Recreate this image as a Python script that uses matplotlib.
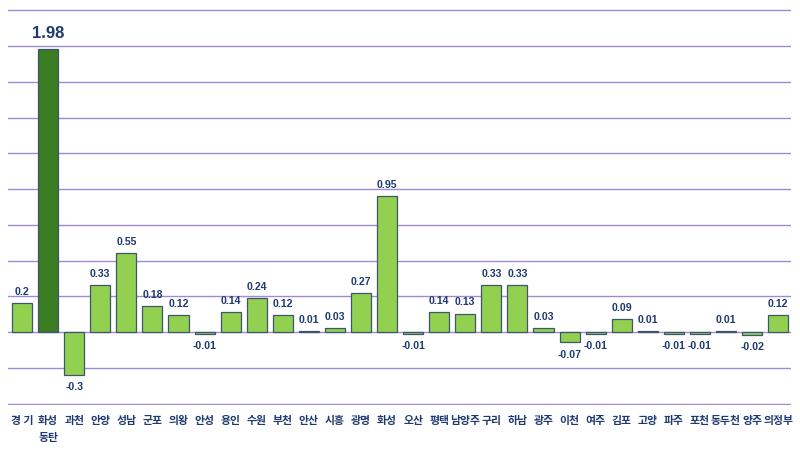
import numpy as np
import matplotlib.pyplot as plt

plt.rcParams['font.family'] = ['Noto Sans CJK KR', 'DejaVu Sans']

regions = ['경 기', '화성\n동탄', '과천', '안양', '성남', '군포', '의왕', '안성', '용인', '수원',
           '부천', '안산', '시흥', '광명', '화성', '오산', '평택', '남양주', '구리', '하남',
           '광주', '이천', '여주', '김포', '고양', '파주', '포천', '동두천', '양주', '의정부']
values = [0.2, 1.98, -0.3, 0.33, 0.55, 0.18, 0.12, -0.01, 0.14, 0.24,
          0.12, 0.01, 0.03, 0.27, 0.95, -0.01, 0.14, 0.13, 0.33, 0.33,
          0.03, -0.07, -0.01, 0.09, 0.01, -0.01, -0.01, 0.01, -0.02, 0.12]
label_texts = ['0.2', '1.98', '-0.3', '0.33', '0.55', '0.18', '0.12', '-0.01', '0.14', '0.24',
               '0.12', '0.01', '0.03', '0.27', '0.95', '-0.01', '0.14', '0.13', '0.33', '0.33',
               '0.03', '-0.07', '-0.01', '0.09', '0.01', '-0.01', '-0.01', '0.01', '-0.02', '0.12']
highlight = 1

navy = '#1F3A6E'
light_green = '#92D050'
dark_green = '#3A7D22'
grid_col = '#A08AD4'

fig = plt.figure(figsize=(8, 4.5), dpi=100)
ax = fig.add_axes([0.01, 0.1, 0.979, 0.88])

x = np.arange(len(values))
colors = [dark_green if i == highlight else light_green for i in x]
ax.bar(x, values, width=0.77, color=colors, edgecolor='#3E5470', linewidth=0.9, zorder=3)

ax.set_ylim(-0.51, 2.26)
ax.set_xlim(-0.54, len(values) - 0.5)
for yv in np.arange(-0.5, 2.26, 0.25):
    ax.axhline(yv, color=grid_col, linewidth=1.0, zorder=1)

for s in ax.spines.values():
    s.set_visible(False)
ax.set_yticks([])
ax.set_xticks(x)
ax.set_xticklabels(regions, fontsize=7.8, fontweight='bold', color=navy, linespacing=1.8, va='top')
ax.tick_params(axis='x', length=0, pad=8)

num_font = ['Liberation Sans', 'DejaVu Sans']
for i, (v, t) in enumerate(zip(values, label_texts)):
    if i == highlight:
        ax.annotate(t, (i, v), xytext=(0, 11), textcoords='offset points', ha='center', va='center',
                    fontsize=12, fontweight='bold', color=navy, family=num_font)
    elif v >= 0:
        ax.annotate(t, (i, v), xytext=(0, 8), textcoords='offset points', ha='center', va='center',
                    fontsize=7.6, fontweight='bold', color=navy, family=num_font)
    else:
        ax.annotate(t, (i, v), xytext=(0, -9), textcoords='offset points', ha='center', va='center',
                    fontsize=7.6, fontweight='bold', color=navy, family=num_font)

fig.savefig('out.png', dpi=100)
